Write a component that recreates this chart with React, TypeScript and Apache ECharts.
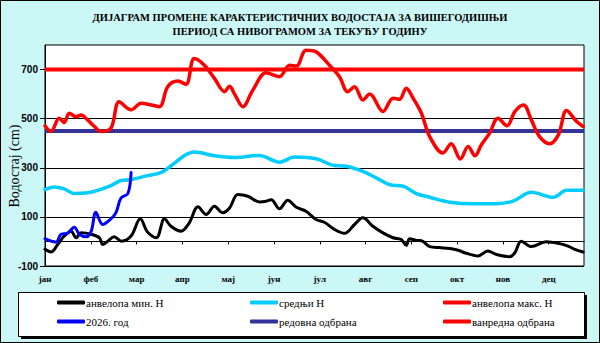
import React, { useEffect, useRef } from "react";
import * as echarts from "echarts";

// x = position in months from the start of January (0 = 1 Jan), y = water level in cm
const MONTHS = ["јан", "феб", "мар", "апр", "мај", "јун", "јул", "авг", "сеп", "окт", "нов", "дец"];
const X_MAX = 11.77;
const Y_TICKS = [-100, 100, 300, 500, 700];

const MIN_H: [number, number][] = [
  [0.0, -32], [0.13, -43], [0.28, -12], [0.42, 22], [0.57, 42], [0.68, 15], [0.79, 35],
  [1.01, 29], [1.19, 15], [1.26, -12], [1.37, 1], [1.51, 19], [1.67, 1], [1.88, 22],
  [2.08, 92], [2.24, 38], [2.43, 15], [2.61, 92], [2.75, 62], [2.97, 42], [3.15, 76],
  [3.34, 141], [3.52, 110], [3.7, 143], [3.88, 117], [4.03, 136], [4.21, 191], [4.43, 184],
  [4.68, 161], [4.83, 164], [4.94, 170], [5.12, 133], [5.3, 168], [5.49, 139], [5.7, 123],
  [5.92, 89], [6.1, 78], [6.32, 49], [6.54, 33], [6.76, 69], [6.94, 96], [7.16, 62],
  [7.38, 35], [7.6, 15], [7.78, 8], [7.89, -16], [7.96, 11], [8.11, 4], [8.22, 3],
  [8.4, -21], [8.62, -25], [8.84, -29], [9.02, -36], [9.2, -48], [9.46, -59], [9.67, -39],
  [9.86, -53], [10.15, -62], [10.26, -46], [10.4, 1], [10.62, -21], [10.95, -1],
  [11.24, -9], [11.42, -19], [11.57, -32], [11.75, -43],
];

const MEAN_H: [number, number][] = [
  [0.0, 211], [0.2, 222], [0.42, 214], [0.64, 195], [0.93, 198], [1.15, 208], [1.44, 227],
  [1.66, 248], [1.88, 252], [2.24, 268], [2.54, 281], [2.83, 319], [3.04, 349], [3.26, 364],
  [3.7, 349], [4.14, 342], [4.68, 350], [5.12, 323], [5.45, 344], [5.92, 337], [6.29, 310],
  [6.58, 306], [6.94, 285], [7.23, 259], [7.53, 231], [7.82, 225], [8.11, 195], [8.4, 180],
  [8.84, 160], [9.35, 153], [9.86, 154], [10.22, 164], [10.62, 200], [11.1, 180],
  [11.39, 208], [11.75, 208],
];

const MAX_H: [number, number][] = [
  [0.0, 471], [0.13, 448], [0.31, 502], [0.42, 484], [0.53, 522], [0.68, 508], [0.79, 515],
  [0.93, 495], [1.08, 468], [1.22, 448], [1.44, 461], [1.62, 569], [1.88, 536], [2.1, 563],
  [2.32, 556], [2.5, 549], [2.68, 630], [2.9, 653], [3.08, 640], [3.26, 745], [3.48, 718],
  [3.7, 664], [3.92, 610], [4.03, 632], [4.14, 600], [4.32, 549], [4.54, 617], [4.83, 687],
  [5.12, 671], [5.34, 718], [5.49, 714], [5.7, 779], [5.92, 772], [6.21, 718], [6.43, 671],
  [6.61, 610], [6.76, 630], [6.94, 576], [7.09, 600], [7.38, 529], [7.6, 583], [7.74, 579],
  [7.89, 624], [8.04, 583], [8.22, 522], [8.4, 427], [8.69, 360], [8.87, 398], [9.07, 336],
  [9.24, 387], [9.39, 349], [9.53, 394], [9.71, 441], [9.89, 502], [10.09, 471],
  [10.26, 529], [10.45, 556], [10.62, 495], [10.8, 427], [11.02, 398], [11.21, 434],
  [11.39, 533], [11.61, 488], [11.75, 468],
];

const CURRENT_2026: [number, number][] = [
  [0.0, 11], [0.24, -3], [0.35, 29], [0.49, 33], [0.64, 58], [0.75, 29], [0.9, 19],
  [1.01, 42], [1.11, 119], [1.26, 69], [1.44, 92], [1.55, 117], [1.66, 177], [1.81, 195],
  [1.88, 281],
];

const REGULAR_DEFENCE = 450;
const EMERGENCY_DEFENCE = 700;

const TITLE_LINES = [
  "ДИЈАГРАМ ПРОМЕНЕ КАРАКТЕРИСТИЧНИХ ВОДОСТАЈА ЗА ВИШЕГОДИШЊИ",
  "ПЕРИОД СА НИВОГРАМОМ ЗА ТЕКУЋУ ГОДИНУ",
];

const NAMES = {
  min: "анвелопа мин. H",
  mean: "средњи H",
  max: "анвелопа макс. H",
  cur: "2026. год",
  reg: "редовна одбрана",
  emg: "ванредна одбрана",
};

export default function App() {
  const ref = useRef<HTMLDivElement>(null);

  useEffect(() => {
    if (!ref.current) return;
    const chart = echarts.init(ref.current, null, { renderer: "svg" });

    const serif = "Liberation Serif";
    const sans = "Liberation Sans";

    const legendPos: { name: string; left: number; top: number }[] = [
      { name: NAMES.min, left: 57, top: 297 },
      { name: NAMES.mean, left: 250, top: 297 },
      { name: NAMES.max, left: 443, top: 297 },
      { name: NAMES.cur, left: 57, top: 316 },
      { name: NAMES.reg, left: 250, top: 316 },
      { name: NAMES.emg, left: 443, top: 316 },
    ];

    const lineSeries = (name: string, data: [number, number][], color: string, width: number, z: number) => ({
      name,
      type: "line",
      data,
      smooth: 0.35,
      showSymbol: false,
      symbol: "none",
      z,
      lineStyle: { color, width, cap: "round", join: "round" },
      itemStyle: { color },
    });

    const option: any = {
      animation: false,
      backgroundColor: "#ccf7f7",
      textStyle: { fontFamily: serif },
      graphic: [
        {
          type: "rect",
          shape: { x: 0.5, y: 0.5, width: 599, height: 342 },
          style: { fill: "none", stroke: "#000", lineWidth: 1 },
          silent: true,
        },
        ...TITLE_LINES.map((t, i) => ({
          type: "text",
          x: 300,
          y: 17 + i * 14,
          style: {
            text: t,
            fontFamily: serif,
            fontWeight: "bold",
            fontSize: 10.5,
            fill: "#000",
            textAlign: "center",
            textVerticalAlign: "middle",
          },
          silent: true,
        })),
        {
          type: "rect",
          shape: { x: 21, y: 295, width: 566, height: 44 },
          style: { fill: "#000" },
          silent: true,
        },
        {
          type: "rect",
          shape: { x: 18.5, y: 292.5, width: 566, height: 44 },
          style: { fill: "#fff", stroke: "#000", lineWidth: 1 },
          silent: true,
        },
        {
          type: "text",
          x: 14,
          y: 166,
          rotation: Math.PI / 2,
          style: {
            text: "Водостај (cm)",
            fontFamily: serif,
            fontSize: 14,
            fill: "#000",
            textAlign: "center",
            textVerticalAlign: "middle",
          },
          silent: true,
        },
      ],
      legend: legendPos.map((p) => ({
        data: [p.name],
        left: p.left,
        top: p.top,
        selectedMode: false,
        icon: "roundRect",
        itemWidth: 28,
        itemHeight: 4,
        padding: 0,
        textStyle: { fontFamily: serif, fontSize: 11, color: "#000", padding: [0, 0, 0, -4] },
      })),
      grid: {
        left: 45,
        top: 45,
        width: 539,
        height: 221,
        show: true,
        backgroundColor: "#fff",
        borderColor: "#000",
        borderWidth: 1,
      },
      xAxis: {
        type: "value",
        min: 0,
        max: X_MAX,
        interval: 1,
        axisLine: { show: true, lineStyle: { color: "#000", width: 1 } },
        axisTick: {
          show: true,
          length: 3,
          lineStyle: { color: "#000" },
          customValues: MONTHS.map((_, i) => i),
        },
        axisLabel: {
          customValues: MONTHS.map((_, i) => i),
          formatter: (v: number) => MONTHS[Math.round(v)] ?? "",
          fontFamily: serif,
          fontWeight: "bold",
          fontSize: 9,
          color: "#000",
          margin: 8,
        },
        splitLine: { show: false },
      },
      yAxis: {
        type: "value",
        min: -100,
        max: 800,
        interval: 200,
        axisLine: { show: true, lineStyle: { color: "#000", width: 1 } },
        axisTick: {
          show: true,
          length: 5,
          lineStyle: { color: "#000" },
          customValues: Y_TICKS,
        },
        axisLabel: {
          customValues: Y_TICKS,
          fontFamily: sans,
          fontWeight: "bold",
          fontSize: 10,
          color: "#000",
          margin: 7,
        },
        splitLine: { show: true, lineStyle: { color: "#000", width: 1 } },
      },
      series: [
        {
          ...lineSeries(NAMES.reg, [[0, REGULAR_DEFENCE], [X_MAX, REGULAR_DEFENCE]], "#333399", 4, 2),
          smooth: false,
          lineStyle: { color: "#333399", width: 4, cap: "butt" },
        },
        {
          ...lineSeries(NAMES.emg, [[0, EMERGENCY_DEFENCE], [X_MAX, EMERGENCY_DEFENCE]], "#ff0000", 4, 2),
          smooth: false,
          lineStyle: { color: "#ff0000", width: 4, cap: "butt" },
        },
        lineSeries(NAMES.min, MIN_H, "#000000", 3, 3),
        lineSeries(NAMES.mean, MEAN_H, "#00ccff", 3.5, 3),
        lineSeries(NAMES.max, MAX_H, "#ff0000", 3.5, 3),
        lineSeries(NAMES.cur, CURRENT_2026, "#0000ff", 3, 4),
      ],
    };

    chart.setOption(option);
    return () => chart.dispose();
  }, []);

  return (
    <div
      ref={ref}
      style={{ position: "fixed", left: 0, top: 0, width: 600, height: 343 }}
    />
  );
}
